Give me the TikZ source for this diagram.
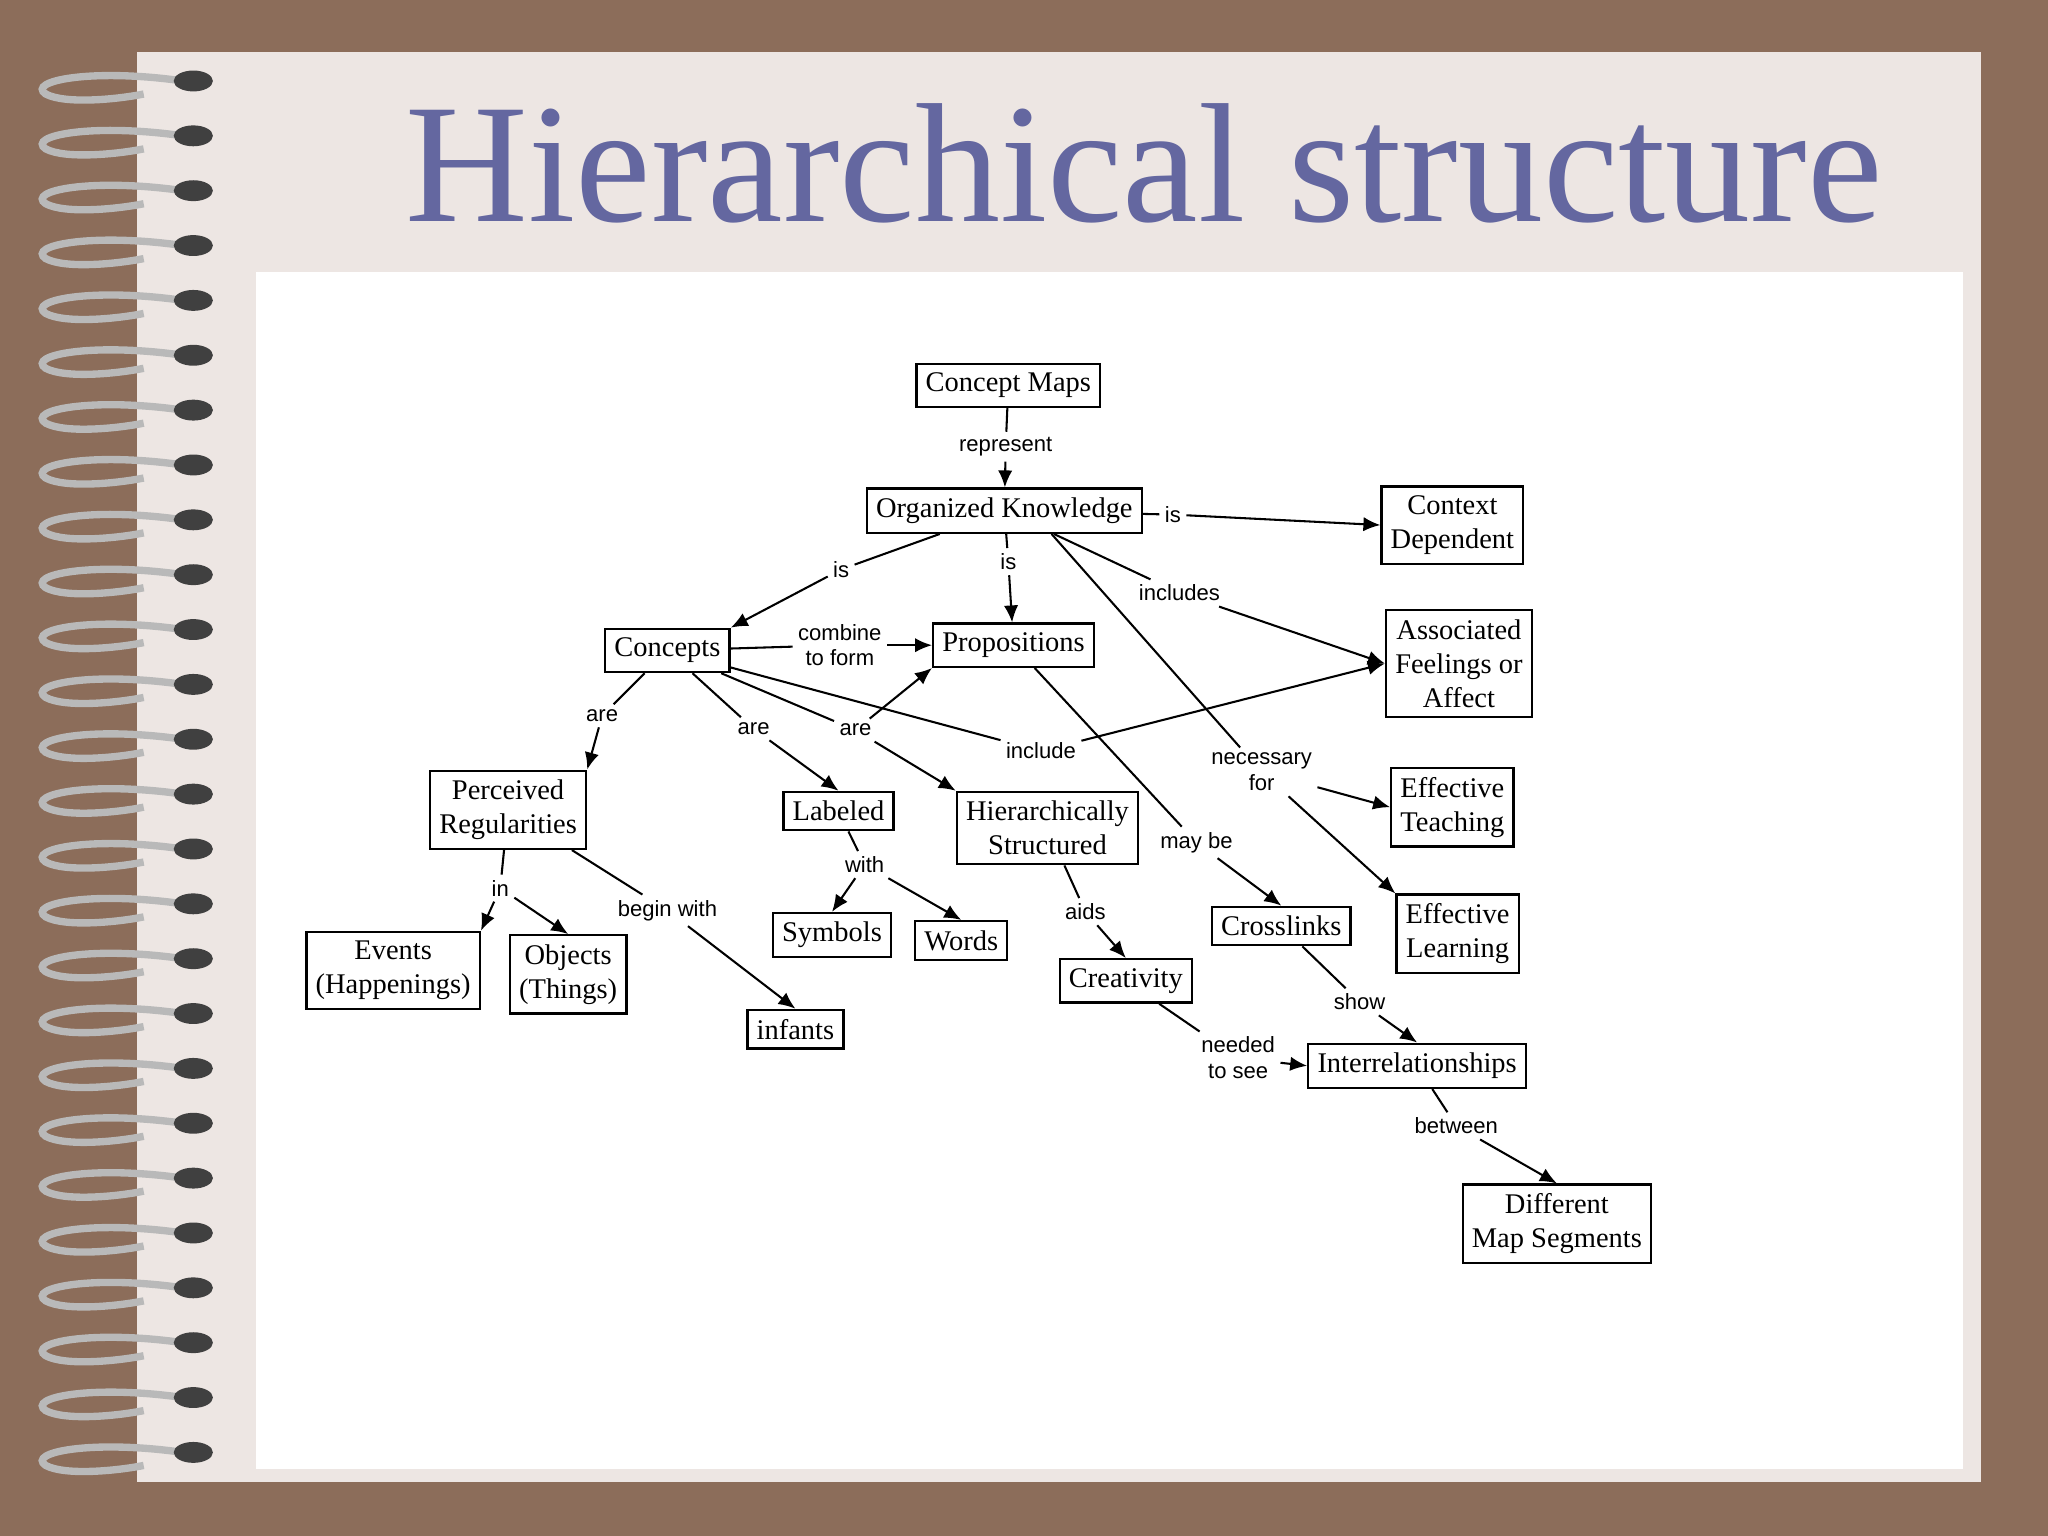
\documentclass[tikz,border=0pt]{standalone}
\usepackage{fontspec}
\setmainfont{Liberation Serif}
\setsansfont{Liberation Sans}
\usetikzlibrary{arrows.meta}
\definecolor{frame}{HTML}{8C6D5A}
\definecolor{paper}{HTML}{EDE6E3}
\definecolor{titlecol}{HTML}{6467A0}
\tikzset{
  concept/.style={draw, line width=0.5pt, fill=white, align=center, inner sep=2pt, font=\fontsize{6.2}{7.4}\selectfont},
  link/.style={inner sep=1pt, align=center, font=\sffamily\fontsize{4.8}{5.6}\selectfont},
  arr/.style={-{Latex[length=1.3mm,width=1.1mm]}, line width=0.45pt},
  ln/.style={line width=0.45pt}
}
\begin{document}
\begin{tikzpicture}[x=0.01cm,y=-0.01cm]
\useasboundingbox (0,0) rectangle (1568,1176);
\fill[frame] (0,0) rectangle (1568,1176);
\fill[paper] (105,40) rectangle (1517,1135);
\fill[white] (196,208) rectangle (1503,1125);

% spiral rings
\foreach \k in {0,...,25}{
  \pgfmathsetmacro{\yy}{62+42*\k}
  \draw[gray!55!white, line width=1.6pt] (140,\yy) .. controls (70,\yy-10) and (20,\yy) .. (35,\yy+10) .. controls (50,\yy+18) and (90,\yy+14) .. (110,\yy+10);
  \fill[black!75] (148,\yy) ellipse [x radius=15, y radius=8];
}

\node[titlecol, font=\fontsize{37}{40}\selectfont] at (876,125) {Hierarchical structure};

% concepts
\node[concept] (cmaps) at (772,295) {Concept Maps};
\node[concept] (orgk) at (769,391) {Organized Knowledge};
\node[concept] (ctxd) at (1112,402) {Context\\Dependent};
\node[concept] (affect) at (1117,508) {Associated\\Feelings or\\Affect};
\node[concept] (concepts) at (511,498) {Concepts};
\node[concept] (props) at (776,494) {Propositions};
\node[concept] (percreg) at (389,620) {Perceived\\Regularities};
\node[concept] (labeled) at (642,621) {Labeled};
\node[concept] (hierstr) at (802,634) {Hierarchically\\Structured};
\node[concept] (effteach) at (1112,618) {Effective\\Teaching};
\node[concept] (efflearn) at (1116,715) {Effective\\Learning};
\node[concept] (events) at (301,743) {Events\\(Happenings)};
\node[concept] (objects) at (435,746) {Objects\\(Things)};
\node[concept] (symbols) at (637,716) {Symbols};
\node[concept] (words) at (736,720) {Words};
\node[concept] (creat) at (862,751) {Creativity};
\node[concept] (crossl) at (981,709) {Crosslinks};
\node[concept] (infants) at (609,788) {infants};
\node[concept] (interrel) at (1085,816) {Interrelationships};
\node[concept] (mapseg) at (1192,937) {Different\\Map Segments};

% linking words
\node[link] (lrep) at (770,342) {represent};
\node[link] (lis1) at (898,394) {is};
\node[link] (lis2) at (644,436) {is};
\node[link] (lis3) at (772,430) {is};
\node[link] (lincl) at (903,454) {includes};
\node[link] (lnec) at (966,591) {necessary\\for};
\node[link] (lcomb) at (643,494) {combine\\to form};
\node[link] (lare1) at (461,548) {are};
\node[link] (lare2) at (577,558) {are};
\node[link] (lare3) at (655,559) {are};
\node[link] (linc2) at (797,575) {include};
\node[link] (lmay) at (916,645) {may be};
\node[link] (lin) at (383,680) {in};
\node[link] (lbeg) at (511,697) {begin with};
\node[link] (lwith) at (662,662) {with};
\node[link] (laids) at (831,698) {aids};
\node[link] (lshow) at (1041,767) {show};
\node[link] (lneed) at (948,810) {needed\\to see};
\node[link] (lbetw) at (1115,862) {between};

% connectors
\draw[ln] (cmaps) -- (lrep); \draw[arr] (lrep) -- (orgk);
\draw[ln] (orgk) -- (lis1); \draw[arr] (lis1) -- (ctxd.west);
\draw[ln] (orgk) -- (lis2); \draw[arr] (lis2) -- (concepts.north east);
\draw[ln] (orgk) -- (lis3); \draw[arr] (lis3) -- (props);
\draw[ln] (orgk) -- (lincl); \draw[arr] (lincl) -- (affect.west);
\draw[ln] (orgk.south east) ++(-70,0) coordinate (oks) -- (lnec);
\draw[arr] (lnec) -- (effteach.west); \draw[arr] (lnec) -- (efflearn.north west);
\draw[ln] (concepts) -- (lcomb); \draw[arr] (lcomb) -- (props);
\draw[ln] (concepts) -- (lare1); \draw[arr] (lare1) -- (percreg.north east);
\draw[ln] (concepts) -- (lare2); \draw[arr] (lare2) -- (labeled.north);
\draw[ln] (concepts) -- (lare3); \draw[arr] (lare3) -- (props.south west);
\draw[arr] (lare3) -- (hierstr.north west);
\draw[ln] (concepts) -- (linc2); \draw[arr] (linc2) -- (affect.west);
\draw[ln] (props) -- (lmay); \draw[arr] (lmay) -- (crossl.north);
\draw[ln] (percreg) -- (lin); \draw[arr] (lin) -- (events.north east);
\draw[arr] (lin) -- (objects.north);
\draw[ln] (percreg) -- (lbeg); \draw[arr] (lbeg) -- (infants.north);
\draw[ln] (labeled) -- (lwith); \draw[arr] (lwith) -- (symbols.north);
\draw[arr] (lwith) -- (words.north);
\draw[ln] (hierstr) -- (laids); \draw[arr] (laids) -- (creat.north);
\draw[ln] (crossl) -- (lshow); \draw[arr] (lshow) -- (interrel.north);
\draw[ln] (creat) -- (lneed); \draw[arr] (lneed) -- (interrel.west);
\draw[ln] (interrel) -- (lbetw); \draw[arr] (lbetw) -- (mapseg.north);
\end{tikzpicture}
\end{document}
